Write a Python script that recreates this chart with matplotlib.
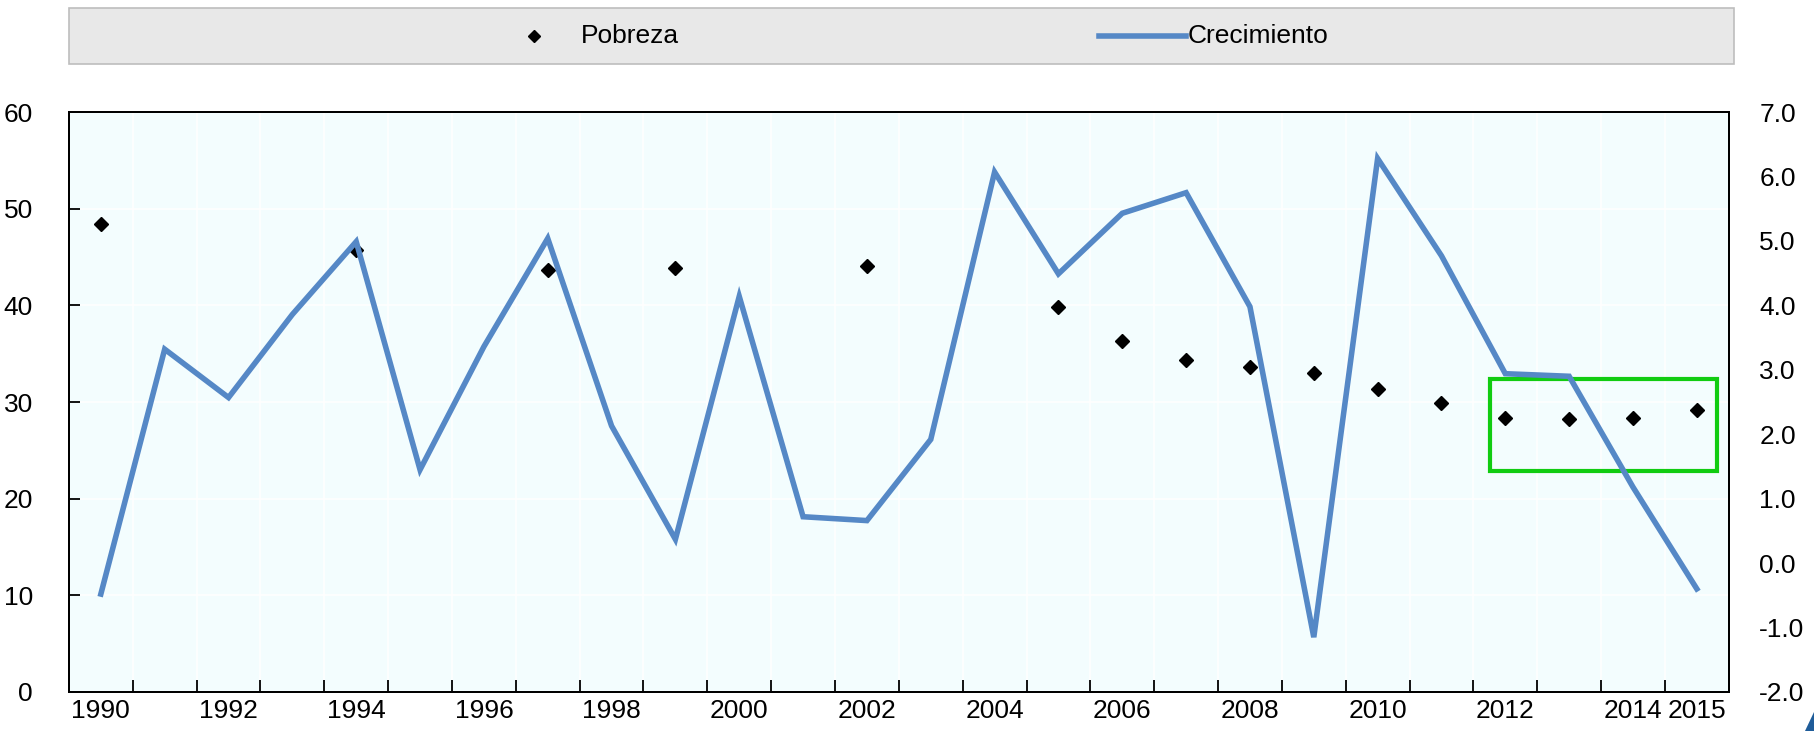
import matplotlib
matplotlib.use("Agg")
import matplotlib.pyplot as plt
import numpy as np
from matplotlib.patches import Rectangle, Polygon
from matplotlib.lines import Line2D

plt.rcParams['font.family'] = ['Liberation Sans Narrow', 'Liberation Sans', 'DejaVu Sans']

years = list(range(1990, 2016))
crecimiento = [-0.48, 3.32, 2.57, 3.86, 4.99, 1.45, 3.36, 5.04, 2.13, 0.37,
               4.14, 0.72, 0.66, 1.92, 6.07, 4.49, 5.43, 5.75, 3.98, -1.15,
               6.28, 4.77, 2.94, 2.90, 1.18, -0.40]
pobreza_years = [1990, 1994, 1997, 1999, 2002, 2005, 2006, 2007, 2008, 2009,
                 2010, 2011, 2012, 2013, 2014, 2015]
pobreza = [48.4, 45.7, 43.7, 43.9, 44.1, 39.8, 36.3, 34.3, 33.6, 33.0,
           31.3, 29.9, 28.4, 28.2, 28.4, 29.2]
xlabels = [str(y) if (y % 2 == 0 or y == 2015) else '' for y in years]

line_col = '#5588C6'
bg_col = '#F3FDFE'
fs = 19

fig = plt.figure(figsize=(18.14, 7.31), dpi=100)
ax = fig.add_axes([0.038, 0.0534, 0.915, 0.7932])
ax2 = ax.twinx()

x = np.arange(len(years))
px = np.array([years.index(y) for y in pobreza_years], dtype=float)

ax.set_facecolor(bg_col)
ax2.patch.set_visible(False)

ax.plot(px, pobreza, linestyle='none', marker='D', markersize=7,
        color='black', zorder=3)
ax2.plot(x, crecimiento, color=line_col, linewidth=4.0, solid_joinstyle='miter')

ax.set_ylim(0, 60)
ax2.set_ylim(-2, 7)

ax.set_yticks(np.arange(0, 61, 10))
ax2.set_yticks(np.arange(-2, 7.1, 1))
ax2.set_yticklabels([f'{v:.1f}' for v in np.arange(-2, 7.1, 1)])

ax.set_xticks(x)
ax.set_xticklabels(xlabels)
ax.set_xticks(np.arange(0.5, len(years) - 1, 1), minor=True)
ax.set_xlim(-0.5, len(years) - 0.5)

# green highlight box around the last years
i12 = years.index(2012)
i15 = years.index(2015)
ax.add_patch(Rectangle((i12 - 0.24, 22.9), (i15 + 0.31) - (i12 - 0.24), 9.5,
                       fill=False, edgecolor='#11CC11', linewidth=3.0, zorder=5))

ax.grid(which='minor', axis='x', color='white', linewidth=1.2)
ax.grid(which='major', axis='y', color='white', linewidth=1.2)
ax.set_axisbelow(True)

ax.tick_params(axis='x', which='major', length=0, labelsize=fs, pad=5)
ax.tick_params(axis='x', which='minor', direction='in', length=9, width=1.3)
ax.tick_params(axis='y', direction='in', length=8, width=1.3, labelsize=fs, pad=26)
ax2.tick_params(axis='y', length=0, labelsize=fs, pad=22)

for sp in ax.spines.values():
    sp.set_linewidth(1.4)
for sp in ax2.spines.values():
    sp.set_linewidth(1.4)

# legend bar across the top
fig.add_artist(Rectangle((0.038, 0.9124), 0.918, 0.0766, transform=fig.transFigure,
                         facecolor='#E8E8E8', edgecolor='#BDBDBD', linewidth=1.2))
fig.add_artist(Line2D([534 / 1814], [0.951], marker='D', markersize=6,
                      color='black', linestyle='none', transform=fig.transFigure))
fig.text(581 / 1814, 0.951, 'Pobreza', fontsize=fs, va='center', ha='left')
fig.add_artist(Line2D([1099 / 1814, 1186 / 1814], [0.951, 0.951], color=line_col,
                      linewidth=4.0, transform=fig.transFigure))
fig.text(1188 / 1814, 0.951, 'Crecimiento', fontsize=fs, va='center', ha='left')

# small logo corner
fig.add_artist(Polygon([[1814 / 1814, 1 - 712 / 731], [1805 / 1814, 0.0], [1814 / 1814, 0.0]],
                       closed=True, transform=fig.transFigure, facecolor='#1F5C99',
                       edgecolor='none'))

fig.savefig('out.png', dpi=100)
